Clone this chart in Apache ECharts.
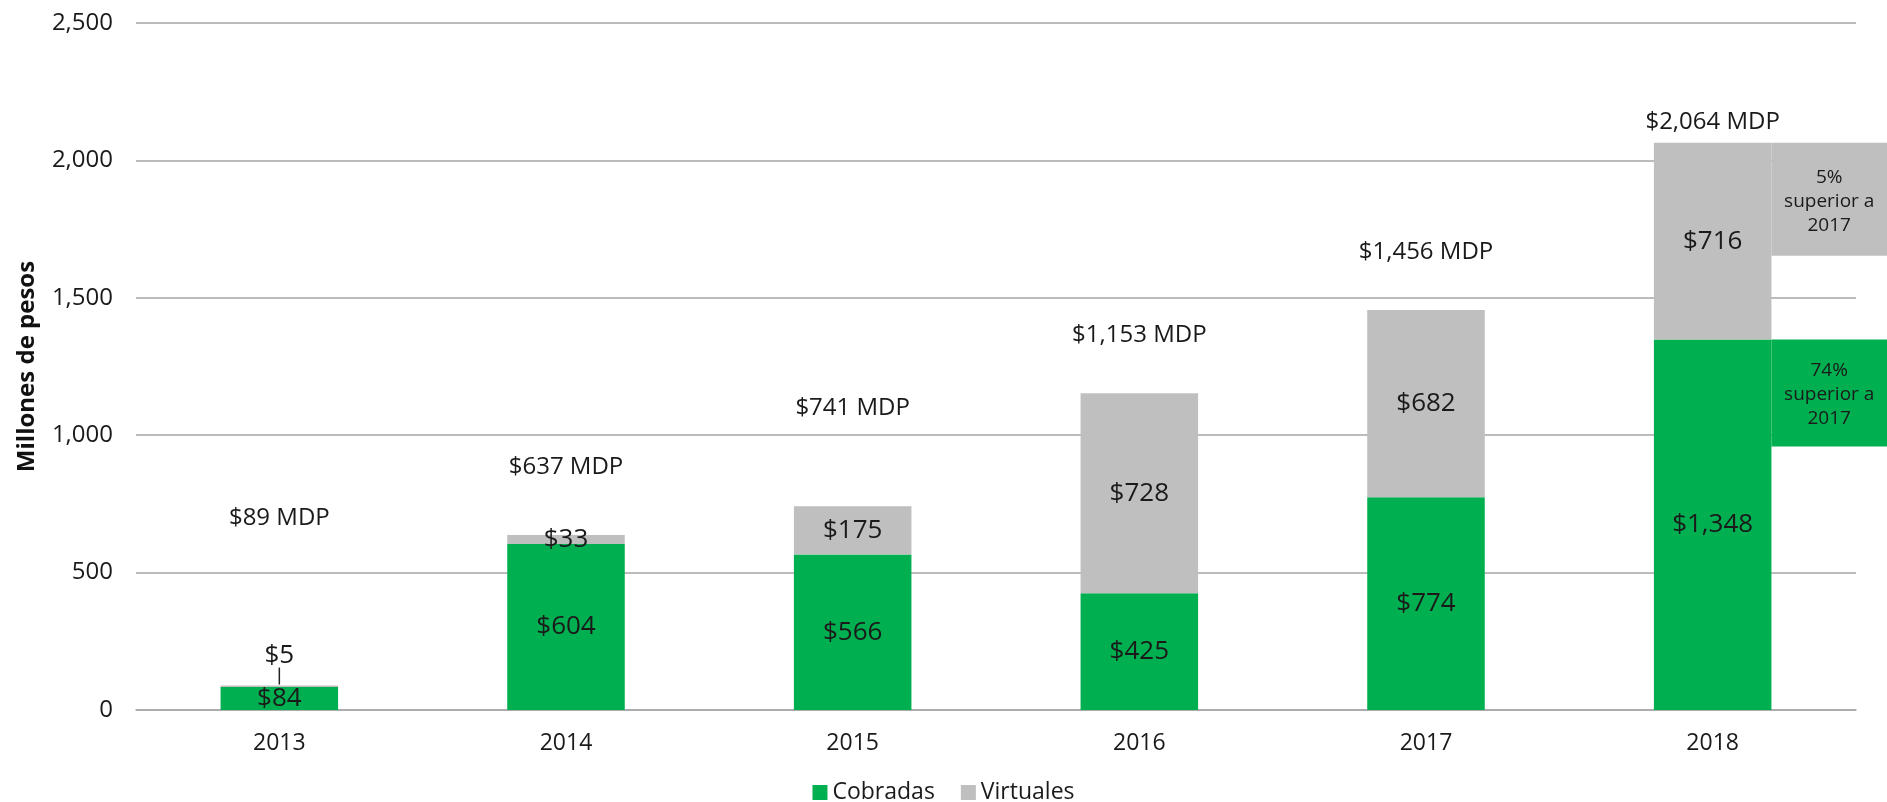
<!DOCTYPE html>
<html>
<head>
  <meta charset="utf-8">
  <title></title>
  <style>
    html, body { margin: 0; padding: 0; background: #fff; }
  </style>
</head>
<body>
  <div id="main" style="width: 1887px;height:802px;"></div>
</body>
<script src="https://cdn.jsdelivr.net/npm/echarts@6/dist/echarts.min.js"></script>
<script>
  // datos (millones de pesos)
  let years = ['2013', '2014', '2015', '2016', '2017', '2018'];
  let cobradas = [84, 604, 566, 425, 774, 1348];
  let virtuales = [5, 33, 175, 728, 682, 716];
  let totales = [89, 637, 741, 1153, 1456, 2064];
  let notas = ['5%\nsuperior a\n2017', '74%\nsuperior a\n2017'];

  // cuanto sube cada etiqueta de total sobre su barra (px)
  let liftTotal = [150, 51, 81, 41, 41, 4];

  let green = '#00b050';
  let grey = '#bfbfbf';
  let ink = '#1a1a1a';
  let font = 'Open Sans';

  let money = v => '$' + v.toLocaleString('en-US');

  var myChart = echarts.init(document.getElementById('main'));

  option = {
    animation: false,
    textStyle: { fontFamily: font },
    grid: { left: 136, right: 31, top: 23, bottom: 92 },
    legend: {
      data: ['Cobradas', 'Virtuales'],
      top: 776,
      left: 'center',
      itemWidth: 15,
      itemHeight: 15,
      itemGap: 26,
      icon: 'rect',
      textStyle: { fontSize: 23, color: ink, fontFamily: font }
    },
    xAxis: {
      type: 'category',
      data: years,
      axisTick: { show: false },
      axisLine: { lineStyle: { color: '#a6a6a6', width: 1.5 } },
      axisLabel: { fontSize: 23, color: ink, margin: 22 }
    },
    yAxis: {
      type: 'value',
      min: 0,
      max: 2500,
      interval: 500,
      name: 'Millones de pesos',
      nameLocation: 'middle',
      nameRotate: 90,
      nameGap: 97,
      nameTextStyle: { fontSize: 24, fontWeight: 'bold', color: '#111' },
      axisLine: { show: false },
      axisTick: { show: false },
      splitLine: { lineStyle: { color: '#a6a6a6', width: 1.5 } },
      axisLabel: {
        fontSize: 24, color: ink, margin: 23,
        formatter: v => v.toLocaleString('en-US')
      }
    },
    series: [
      {
        name: 'Cobradas',
        type: 'bar',
        stack: 'total',
        barWidth: '41%',
        barGap: '-100%',
        itemStyle: { color: green },
        label: {
          show: true, position: 'inside', fontSize: 26, color: ink,
          formatter: p => money(p.value)
        },
        data: cobradas
      },
      {
        name: 'Virtuales',
        type: 'bar',
        stack: 'total',
        barWidth: '41%',
        barGap: '-100%',
        itemStyle: { color: grey },
        label: {
          show: true, position: 'inside', fontSize: 26, color: ink,
          formatter: p => money(p.value)
        },
        data: virtuales.map((v, i) => i == 0
          ? { value: v, label: { position: 'top', distance: 17 } }
          : v)
      },
      {
        name: 'Total',
        type: 'bar',
        barWidth: '41%',
        barGap: '-100%',
        silent: true,
        z: 1,
        itemStyle: { color: 'rgba(0,0,0,0)' },
        label: {
          show: true, position: 'top', fontSize: 24, color: ink,
          formatter: p => money(p.value) + ' MDP'
        },
        data: totales.map((v, i) => ({ value: v, label: { offset: [0, -liftTotal[i]] } }))
      }
    ]
  };

  myChart.setOption(option);

  // linea guia del $5 y cuadros de notas de 2018
  let last = years.length - 1;
  let c0 = myChart.convertToPixel({ gridIndex: 0 }, [0, totales[0]]);
  let cA = myChart.convertToPixel({ gridIndex: 0 }, [last - 1, 0]);
  let cB = myChart.convertToPixel({ gridIndex: 0 }, [last, 0]);
  let barW = (cB[0] - cA[0]) * 0.41;
  let boxX = cB[0] + barW / 2;
  let boxW = 1887 - boxX;
  let topGrey = myChart.convertToPixel({ gridIndex: 0 }, [last, totales[last]])[1];
  let topGreen = myChart.convertToPixel({ gridIndex: 0 }, [last, cobradas[last]])[1];

  myChart.setOption({
    graphic: [
      {
        type: 'line',
        shape: { x1: c0[0], y1: c0[1] - 1, x2: c0[0], y2: c0[1] - 18 },
        style: { stroke: '#222', lineWidth: 1.5 }
      },
      {
        type: 'rect',
        shape: { x: boxX, y: topGrey, width: boxW, height: 113 },
        style: { fill: grey }
      },
      {
        type: 'text',
        x: boxX + boxW / 2, y: topGrey + 59,
        style: {
          text: notas[0], align: 'center', verticalAlign: 'middle',
          fontSize: 19, lineHeight: 24, fill: ink, fontFamily: font
        }
      },
      {
        type: 'rect',
        shape: { x: boxX, y: topGreen, width: boxW, height: 107 },
        style: { fill: green }
      },
      {
        type: 'text',
        x: boxX + boxW / 2, y: topGreen + 55,
        style: {
          text: notas[1], align: 'center', verticalAlign: 'middle',
          fontSize: 19, lineHeight: 24, fill: ink, fontFamily: font
        }
      }
    ]
  });
</script>
</html>
